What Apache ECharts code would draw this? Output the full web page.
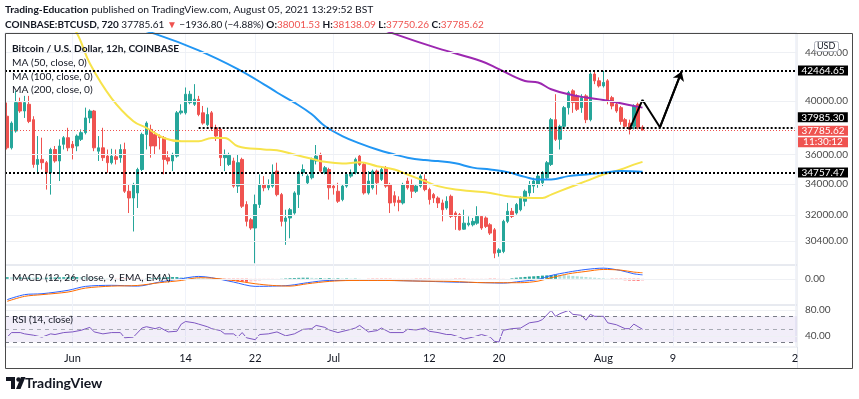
<!DOCTYPE html>
<html lang="en">
<head>
<meta charset="UTF-8"/>
<title>BTCUSD 12h</title>
<script src="https://cdn.jsdelivr.net/npm/echarts@6.0.0/dist/echarts.min.js"></script>
</head>
<body style="margin:0;background:#fff">
<div id="main" style="width:859px;height:399px"></div>
<script type="text/javascript">
// 12h candles from May 24 12:00 to Aug 5 12:00, [open, close, low, high]
var candles = [
  [38820,36490,36370,39870],[36490,38300,36370,38430],[37710,39870,37590,40800],[39870,39220,39080,40260],
  [39220,39870,38690,40400],[39740,38430,38300,40400],[38560,35320,35090,38820],[35320,35670,34750,37340],
  [35670,35440,34970,37220],[35440,34750,33620,35560],[34750,36370,33290,36490],[36370,35560,35440,36620],
  [35560,36620,34190,37100],[36740,37220,36370,37340],[37220,36490,36250,37950],[36740,36490,35670,36980],
  [36620,37340,36250,37460],[37100,37590,36980,37830],[37590,38690,37460,39480],[38690,39220,38300,39350],
  [39220,36490,36250,39300],[36250,36490,35560,37340],[36490,35790,35560,37950],[35900,35440,34750,36370],
  [35440,35900,35320,36420],[35860,35670,35320,36370],[35790,36370,35440,36740],[36370,33510,33400,36860],
  [33510,33070,32110,33960],[33070,33960,30970,34070],[33400,34970,32430,35090],[34970,37460,34860,37590],
  [37460,38300,36370,38430],[37830,36620,35790,38180],[37460,36620,36020,37710],[37340,37220,36370,37460],
  [37220,35670,34640,37340],[35790,35560,35320,36250],[35560,36020,34860,36140],[35900,39080,35790,39220],
  [39080,39220,38950,39740],[39080,40530,38950,41070],[39870,40530,39740,40800],[39740,40130,39610,41340],
  [40130,38950,38820,40400],[39080,38300,38180,39610],[38180,38950,38060,39480],[39080,37950,37710,39220],
  [37950,37340,36980,38180],[37830,35790,35210,37950],[35790,36020,34860,36370],[35320,35950,35210,36140],
  [35560,33850,33740,35790],[33850,35440,33400,36020],[35670,32540,32430,35790],[32650,31590,31280,32860],
  [31690,31180,31070,31800],[31180,32650,29100,33290],[32650,33960,32430,34640],[33960,33740,33510,34520],
  [33740,33900,33580,34300],[33850,34640,33740,35320],[34860,33290,33180,35440],[33290,31590,31280,33400],
  [31590,31800,30170,32320],[31800,32320,30560,32430],[32110,33400,32010,33510],[33290,34750,32430,34860],
  [34750,34970,34520,35320],[34070,34520,33960,34640],[34410,35670,34300,35790],[35560,35900,35320,36690],
  [36020,34860,34750,36140],[34750,35090,34640,35210],[34970,33740,32970,35090],[33850,33740,33290,33960],
  [33510,32860,32750,34070],[32970,33850,32860,33960],[33850,34640,33740,34750],[34520,34750,34410,34970],
  [34750,35670,34640,35790],[35900,35320,35210,36020],[35320,33400,33290,35440],[33400,34190,33290,34860],
  [33740,34860,33620,34970],[34860,34070,33290,34970],[34300,34970,34190,35090],[35090,33850,33740,35210],
  [33960,32750,32110,34070],[33220,32790,32540,33510],[32920,32790,32220,33180],[32750,33960,32650,34070],
  [34190,33740,33620,34410],[33960,33510,33070,34300],[33510,33850,33400,33960],[33850,34520,33740,34640],
  [34300,33620,33510,34640],[33620,32970,32650,33740],[33290,33070,32750,33400],[33070,32750,32430,33180],
  [32750,32320,31590,32970],[32430,32860,32320,33180],[33180,31900,31800,33290],[32110,31900,31070,32220],
  [32010,31070,31030,32110],[31110,31480,31070,32320],[31380,31480,31280,31900],[31380,31590,31280,31800],
  [31480,31900,31380,32540],[31900,31180,31070,31960],[31800,31280,31180,31900],[31380,30870,30760,31480],
  [31070,29680,29390,31180],[29720,29870,29480,29970],[29780,31590,29680,31690],[31590,32220,31480,32750],
  [32220,31900,31800,32430],[32110,32650,32010,32750],[32320,33070,32220,33180],[32860,33510,32540,33620],
  [33400,33960,33180,34190],[33850,34190,33400,34410],[33960,34520,33740,34750],[34070,34750,33850,34860],
  [34410,35440,34300,35560],[35320,38560,35210,38690],[38560,37100,36980,40530],[37100,38060,36370,38180],
  [38060,39480,37950,39610],[39480,40660,38950,40800],[40800,39870,39080,40930],[40400,39350,39220,40530],
  [39480,40260,39080,40530],[40400,38560,38300,40530],[38560,42170,38430,42310],[42170,41610,41340,42440],
  [41610,41200,41070,41890],[41200,41480,41070,42440],[41610,40000,39740,41750],[40260,39610,39350,40400],
  [39740,39220,39080,39870],[39480,38430,38180,39610],[38560,38060,37950,38690],[38300,37830,37460,38560],
  [38060,39610,37830,39740],[39740,38010,37830,39870],[38001.53,37785.62,37750.26,38138.09]
];
var slotCount = 182;   // candles plus empty future slots up to Aug 23

var tickIdx = [15, 41, 57, 75, 97, 113, 137, 153, 181];
var tickText = ['Jun', '14', '22', 'Jul', '12', '20', 'Aug', '9', '2'];
var priceTicks = [44000, 40000, 36000, 34000, 32000, 30400];

var ma50Idx = [0,8,16,19,24,29,32,36,40,44,47,50,53,59,62,66,70,73,77,81,85,89,92,96,99,103,107,111,115,119,123,125,129,133,137,141,144,146];
var ma50 = [56000,51000,45700,43050,40210,38440,37950,37200,36960,36960,37200,37200,36600,36370,36320,36010,35710,35500,35380,35470,35200,34970,34630,34180,33850,33620,33510,33400,33180,33090,33070,33290,33740,34180,34630,34970,35310,35500];
var ma100Idx = [0,20,34,44,53,59,62,66,70,73,77,81,85,89,92,96,99,103,107,111,115,119,122,125,129,133,137,141,146];
var ma100 = [51200,47300,45620,44170,42580,41330,40670,39870,38970,38080,37340,36810,36370,36020,35790,35620,35550,35400,35100,34970,34790,34470,34290,34290,34520,34630,34750,34860,34820];
var ma200Idx = [0,60,89,99,109,113,119,122,125,129,133,137,141,146];
var ma200 = [56000,49900,45620,44340,43240,42580,41590,41470,40930,40530,40270,40080,39820,39480];

// horizontal levels drawn by the author
var levelFull = [42464.65, 34757.47];
var levelPart = 37985.30, levelPartFrom = 44;
var lastPrice = 37785.62;
var drawX = [143, 146, 150, 155];
var drawY = [37830, 40080, 37985, 42380];

// MACD (12, 26, 9)
var macdIdx = [0,4,8,14,18,24,30,35,40,44,47,52,57,61,65,69,74,79,87,95,102,110,114,118,122,125,129,133,137,141,144,146];
var macd = [-1590,-1210,-1140,-880,-580,-500,-560,-250,0,180,80,-250,-580,-560,-500,-300,-130,-130,-130,-180,-250,-300,-330,-200,-50,250,510,710,810,630,380,300];
var signal = [-1720,-1340,-1210,-1010,-710,-560,-510,-300,-130,80,50,-130,-380,-510,-560,-380,-200,-130,-130,-180,-200,-300,-300,-300,-180,80,380,560,710,660,510,460];
var hist = [
  120,110,100,100,90,90,80,80,70,
  80,90,100,110,120,130,130,130,120,
  110,100,80,60,40,20,10,-10,-30,-50,-60,-50,
  -40,-20,10,40,60,80,100,120,130,130,
  120,110,100,80,60,40,20,0,
  -30,-60,-100,-140,-170,-200,-220,-230,-210,-180,-140,-100,-60,
  -30,-10,10,30,50,60,70,80,80,70,
  60,60,50,50,40,40,30,30,20,20,10,0,
  -10,-20,-30,-40,-50,-60,-60,-60,-50,-40,-30,-40,-50,-60,-70,-60,-50,-40,-30,-30,-40,-50,-60,-60,-50,-40,-30,-20,
  -40,-70,-60,-40,
  0,40,80,110,140,170,190,210,240,260,280,300,290,280,
  250,220,190,160,130,100,80,60,40,10,
  -30,-60,-90,-110,-130,-140,-150,-150
];

// RSI (14)
var rsiIdx = [0,1,3,4,6,8,10,11,13,15,17,19,20,22,24,26,27,29,31,32,34,35,37,39,40,41,43,44,46,47,49,50,52,53,54,55,57,58,60,62,64,66,68,70,71,73,74,76,79,80,81,83,85,86,88,91,92,94,96,97,99,101,102,104,105,107,109,111,112,113,114,116,118,120,122,123,125,126,127,129,130,132,133,134,135,137,138,140,142,143,144,146];
var rsi = [38,45,45,43,41,38,43,42,45,46,48.5,53,46,43,45,45,37,38,52,54,51,53,46,47,58,62,60,58,54,51,48,43,43,38,45,37,34,42,43,46,40,43,50,51,56,53,49,45,50,52,56,46,48,52,45,45,50,49,52,47,45,42,42,38,35,38,42,38,31.5,30.5,48.5,51,52,60,62,65,79,70,74,79,73,71.5,64,73,70,70,60,57,51,51,58,50];

var FONT = 'Lato';
var TXT = '#131722';
var UP = '#26A69A', DOWN = '#EF5350';

var myChart = echarts.init(document.getElementById('main'));

var cats = [];
for (var i = 0; i < slotCount; i++) cats.push(String(i));

function pairs(idx, vals) {
    return idx.map(function (x, k) { return [x, vals[k]]; });
}
function isTick(i) { return tickIdx.indexOf(i) >= 0; }

function xAx(g) {
    return {
        type: 'category', gridIndex: g, data: cats, boundaryGap: true,
        axisLine: {show: false}, axisTick: {show: false},
        axisLabel: {
            show: g === 2, interval: function (i) { return isTick(i); },
            formatter: function (v, i) { return tickText[tickIdx.indexOf(i)]; },
            margin: 6, fontSize: 11, fontFamily: FONT, color: TXT
        },
        splitLine: {show: true, alignWithLabel: true, interval: function (i) { return isTick(i); },
            lineStyle: {color: '#F0F3FA', width: 1}}
    };
}

// text block helper, size in px
function ttl(left, top, text, size, extra) {
    var ts = {
        fontFamily: FONT, fontSize: size, fontWeight: 'normal', color: TXT, lineHeight: 14,
        rich: {
            bold: {fontFamily: FONT, fontSize: size, fontWeight: 'bold', color: TXT, lineHeight: 14},
            red: {fontFamily: FONT, fontSize: size, color: '#EF5350', lineHeight: 14}
        }
    };
    for (var k in (extra || {})) ts[k] = extra[k];
    return {left: left, top: top, padding: 0, text: text, textStyle: ts};
}

var gridLine = {color: '#EEF0F4', width: 1, type: 'solid'};
var dotted = {color: '#000', width: 2, type: [2, 2]};
var boxStyle = {backgroundColor: '#000', color: '#fff', fontFamily: FONT, fontSize: 10, lineHeight: 10,
    width: 44, align: 'center', padding: [0, 3]};

function axisLab(t) {
    return {formatter: t, position: 'end', distance: 8, color: '#4A4A4A', fontSize: 10, fontFamily: FONT};
}

var priceMarks = priceTicks.map(function (v) {
    return {yAxis: v, lineStyle: gridLine, label: axisLab(v.toFixed(2))};
});
levelFull.forEach(function (v) {
    priceMarks.push({yAxis: v, lineStyle: dotted,
        label: {position: 'end', distance: 1, formatter: '{box|' + v.toFixed(2) + '}', rich: {box: boxStyle}}});
});
var partLab = {position: 'end', distance: 3, formatter: '{box|' + levelPart.toFixed(2) + '}\n{gap| }',
    rich: {box: boxStyle, gap: {fontSize: 1, lineHeight: 20}}};
priceMarks.push([
    {coord: [levelPartFrom, levelPart], lineStyle: dotted, label: partLab},
    {coord: [slotCount - 1, levelPart], lineStyle: dotted, label: partLab}
]);
priceMarks.push({yAxis: lastPrice, lineStyle: {color: DOWN, width: 1, type: [1, 2]},
    label: {position: 'end', distance: 1,
        formatter: '{gap| }\n{cur|' + lastPrice.toFixed(2) + '}\n{cur|11:30:12}',
        rich: {gap: {fontSize: 1, lineHeight: 13},
            cur: {backgroundColor: DOWN, color: '#fff', fontFamily: FONT, fontSize: 10, lineHeight: 11.5,
                width: 44, align: 'center', padding: [0, 3]}}}});

function maLine(name, idx, vals, color) {
    return {name: name, type: 'line', xAxisIndex: 0, yAxisIndex: 0, data: pairs(idx, vals),
        smooth: 0.4, showSymbol: false, symbol: 'none', lineStyle: {color: color, width: 2}, z: 3};
}

option = {
    animation: false,
    backgroundColor: '#fff',
    title: [
        ttl(5, 3, '{bold|Trading-Education} published on TradingView.com, August 05, 2021 13:29:52 BST', 10.3),
        ttl(5, 18, '{bold|COINBASE:BTCUSD, 720} 37785.61 {red|\u25BC} \u22121936.80 (\u22124.88%) {bold|O:}{red|38001.53} {bold|H:}{red|38138.09} {bold|L:}{red|37750.26} {bold|C:}{red|37785.62}', 10),
        ttl(12, 42, '{bold|Bitcoin / U.S. Dollar, 12h, COINBASE}', 10.2),
        ttl(12, 56, 'MA (50, close, 0)', 10.2),
        ttl(12, 69.5, 'MA (100, close, 0)', 10.2),
        ttl(12, 83, 'MA (200, close, 0)', 10.2),
        ttl(12, 271, 'MACD (12, 26, close, 9, EMA, EMA)', 10.1),
        ttl(12, 313, 'RSI (14, close)', 10),
        {left: 814, top: 41, padding: [1, 3], text: 'USD', backgroundColor: '#fff', borderColor: '#B2B5BE',
            borderWidth: 1, borderRadius: 2,
            textStyle: {fontFamily: FONT, fontSize: 9, fontWeight: 'normal', color: TXT, lineHeight: 9}},
        ttl(25, 375, 'TradingView', 14, {fontWeight: 'bold', lineHeight: 16})
    ],
    grid: [
        {left: 5, top: 33, width: 792, height: 232, show: true, borderColor: '#E0E3EB', borderWidth: 1},
        {left: 5, top: 265, width: 792, height: 40, show: true, borderColor: '#E0E3EB', borderWidth: 1},
        {left: 5, top: 305, width: 792, height: 42, show: true, borderColor: '#E0E3EB', borderWidth: 1}
    ],
    xAxis: [xAx(0), xAx(1), xAx(2)],
    yAxis: [
        {type: 'log', gridIndex: 0, min: 29000, max: 45700, position: 'right',
            axisLine: {show: false}, axisTick: {show: false}, axisLabel: {show: false}, splitLine: {show: false}},
        {type: 'value', gridIndex: 1, min: -2000, max: 1050, position: 'right',
            axisLine: {show: false}, axisTick: {show: false}, axisLabel: {show: false}, splitLine: {show: false}},
        {type: 'value', gridIndex: 2, min: 22.8, max: 87.4, position: 'right',
            axisLine: {show: false}, axisTick: {show: false}, axisLabel: {show: false}, splitLine: {show: false}}
    ],
    series: [
        {
            name: 'BTCUSD', type: 'candlestick', xAxisIndex: 0, yAxisIndex: 0, data: candles, barWidth: 3,
            itemStyle: {color: UP, color0: DOWN, borderColor: UP, borderColor0: DOWN, borderWidth: 1},
            markLine: {silent: true, symbol: ['none', 'none'], animation: false, data: priceMarks}
        },
        maLine('MA 50', ma50Idx, ma50, '#F7E34B'),
        maLine('MA 100', ma100Idx, ma100, '#2196F3'),
        maLine('MA 200', ma200Idx, ma200, '#9C27B0'),
        {
            name: 'drawing', type: 'line', xAxisIndex: 0, yAxisIndex: 0, data: pairs(drawX, drawY),
            showSymbol: false, symbol: 'none', lineStyle: {color: '#000', width: 2}, z: 4,
            markLine: {silent: true, symbol: ['none', 'arrow'], symbolSize: 9, animation: false,
                lineStyle: {color: '#000', width: 2, type: 'solid'}, label: {show: false},
                data: [[{coord: [drawX[2], drawY[2]]}, {coord: [drawX[3], drawY[3]]}]]}
        },
        {
            name: 'Histogram', type: 'bar', xAxisIndex: 1, yAxisIndex: 1, data: hist, barWidth: 3,
            itemStyle: {color: function (p) {
                var v = hist[p.dataIndex], prev = p.dataIndex > 0 ? hist[p.dataIndex - 1] : v;
                if (v >= 0) return v >= prev ? '#26A69A' : '#B2DFDB';
                return v < prev ? '#FF5252' : '#FFCDD2';
            }}
        },
        {
            name: 'MACD', type: 'line', xAxisIndex: 1, yAxisIndex: 1, data: pairs(macdIdx, macd),
            smooth: 0.3, showSymbol: false, symbol: 'none', lineStyle: {color: '#2962FF', width: 1},
            markLine: {silent: true, symbol: ['none', 'none'], animation: false,
                data: [{yAxis: 0, lineStyle: gridLine, label: axisLab('0.00')}]}
        },
        {
            name: 'Signal', type: 'line', xAxisIndex: 1, yAxisIndex: 1, data: pairs(macdIdx, signal),
            smooth: 0.3, showSymbol: false, symbol: 'none', lineStyle: {color: '#FF6D00', width: 1}
        },
        {
            name: 'RSI', type: 'line', xAxisIndex: 2, yAxisIndex: 2, data: pairs(rsiIdx, rsi),
            showSymbol: false, symbol: 'none', lineStyle: {color: '#7E57C2', width: 1}, z: 4,
            markArea: {silent: true, itemStyle: {color: 'rgba(126,87,194,0.1)'},
                data: [[{yAxis: 30}, {yAxis: 70}]]},
            markLine: {silent: true, symbol: ['none', 'none'], animation: false, data: [
                {yAxis: 80, lineStyle: gridLine, label: axisLab('80.00')},
                {yAxis: 40, lineStyle: gridLine, label: axisLab('40.00')},
                {yAxis: 70, lineStyle: {color: '#787B86', width: 1, type: [4, 4]}, label: {show: false}},
                {yAxis: 50, lineStyle: {color: '#A8ABB5', width: 1, type: [4, 4]}, label: {show: false}},
                {yAxis: 30, lineStyle: {color: '#787B86', width: 1, type: [4, 4]}, label: {show: false}}
            ]}
        }
    ],
    graphic: [
        {type: 'rect', shape: {x: 5.5, y: 33.5, width: 847, height: 335}, style: {fill: 'none', stroke: '#4A4A4A', lineWidth: 1}, z: 100},
        {type: 'line', shape: {x1: 797.5, y1: 347, x2: 797.5, y2: 369}, style: {stroke: '#E0E3EB', lineWidth: 1}},
        {type: 'rect', shape: {x: 6, y: 377, width: 9, height: 4}, style: {fill: TXT}},
        {type: 'rect', shape: {x: 11, y: 377, width: 4, height: 12}, style: {fill: TXT}},
        {type: 'circle', shape: {cx: 18.5, cy: 379.5, r: 2.2}, style: {fill: TXT}},
        {type: 'polygon', shape: {points: [[21, 377], [25.5, 377], [20.5, 389], [16, 389]]}, style: {fill: TXT}}
    ]
};

myChart.setOption(option);
</script>
</body>
</html>
